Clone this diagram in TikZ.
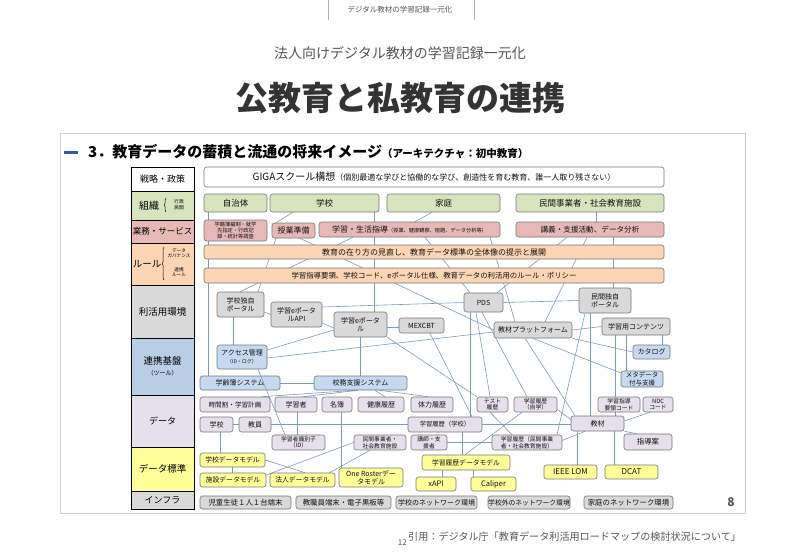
\documentclass[tikz,border=0pt]{standalone}
\usepackage{fontspec}
\setmainfont{Noto Sans CJK JP}
\usetikzlibrary{calc,decorations.pathreplacing}
\definecolor{cgreen}{HTML}{D7E4BD}
\definecolor{cpink}{HTML}{E6B9B8}
\definecolor{cpeach}{HTML}{FCD5B5}
\definecolor{cgray}{HTML}{D9D9D9}
\definecolor{cblue}{HTML}{C6D9F1}
\definecolor{cbluecat}{HTML}{B9CDE5}
\definecolor{clav}{HTML}{E6E0EC}
\definecolor{cyel}{HTML}{FFFF99}
\definecolor{bord}{HTML}{777777}
\definecolor{txt}{HTML}{111111}
\definecolor{lnk}{HTML}{7A9CBB}
\definecolor{hblue}{HTML}{2F5BA8}
\definecolor{dgray}{HTML}{333333}
\definecolor{mgray}{HTML}{555555}
\definecolor{framec}{HTML}{D0D0D0}
\pgfdeclarelayer{bgl}
\pgfdeclarelayer{lines}
\pgfsetlayers{bgl,lines,main}
\newcommand\fsz[2]{\fontsize{#1}{#2}\selectfont}
\newcommand\mybox[7]{\node[#6,minimum width={#4pt-#2pt},minimum height={#5pt-#3pt}] (#1) at ({(#2+#4)/2},{(#3+#5)/2}) {#7};}
\tikzset{
 bxs/.style={draw=bord,line width=0.6pt,rounded corners=2.5pt,inner sep=0pt,align=center,text=txt},
 wbox/.style={bxs,fill=white},
 gbox/.style={bxs,fill=cgreen,font=\fsz{8.5}{10}},
 pbox/.style={bxs,fill=cpink,font=\fsz{8}{9.5}},
 obox/.style={bxs,fill=cpeach,font=\fsz{8}{9.5}},
 gybox/.style={bxs,fill=cgray,font=\fsz{7}{8.5}},
 bbox/.style={bxs,fill=cblue,font=\fsz{7}{8.5}},
 lbox/.style={bxs,fill=clav,font=\fsz{7}{8}},
 sbox/.style={bxs,fill=clav,font=\fsz{5.8}{6.6}},
 ybox/.style={bxs,fill=cyel,font=\fsz{6.8}{8}},
 ibox/.style={bxs,fill=cgray,font=\fsz{7.4}{8.5}},
 cat/.style={draw=black,line width=0.9pt,inner sep=0pt,align=center,font=\fsz{9}{10.5},text=black},
 conn/.style={draw=lnk,line width=0.6pt},
 lab/.style={inner sep=0pt,align=center},
 brc/.style={decorate,decoration={brace,amplitude=1.8pt},line width=0.45pt}
}
\begin{document}
\begin{tikzpicture}[x=1pt,y=-1pt]
\useasboundingbox (0,0) rectangle (800,554);
\begin{pgfonlayer}{bgl}
\fill[white] (0,0) rectangle (800,554);
\draw[framec,line width=0.8pt] (60,133) rectangle (745,513);
\end{pgfonlayer}
% header
\draw[gray!60,line width=0.6pt] (328,0) -- (328,20);
\draw[gray!60,line width=0.6pt] (474,0) -- (474,20);
\node[lab,text=mgray,font=\fsz{7.5}{9}] (hdr) at (400,10) {デジタル教材の学習記録一元化};
\node[lab,text=mgray,font=\fsz{14}{16}] (sub) at (400,53) {法人向けデジタル教材の学習記録一元化};
\node[lab,text=dgray,font=\fsz{33}{36}\bfseries] (title) at (400,98) {公教育と私教育の連携};
\draw[hblue,line width=3pt] (64,152) -- (78,152);
\node[lab,anchor=west,text=black] (head) at (88,152) {\fsz{15}{17}\bfseries 3．教育データの蓄積と流通の将来イメージ\fsz{10.5}{12}（アーキテクチャ：初中教育）};
% footer
\node[lab,anchor=west,text=mgray,font=\fsz{10.1}{12}] (cite) at (408,537) {引用：デジタル庁「教育データ利活用ロードマップの検討状況について」};
\node[lab,anchor=east,text=mgray,font=\fsz{8}{9}] (pnum) at (407,543) {12};
\node[lab,text=mgray,font=\fsz{12}{14}\bfseries] (pg) at (731,502) {8};
% categories
\mybox{c1}{131}{167}{194}{191}{cat,fill=white}{戦略・政策}
\mybox{c2}{131}{191}{194}{220}{cat,fill=cgreen}{}
\mybox{c3}{131}{220}{194}{243}{cat,fill=cpink,font=\fsz{8.5}{10}}{業務・サービス}
\mybox{c4}{131}{243}{194}{285}{cat,fill=cpeach}{}
\mybox{c5}{131}{285}{194}{338}{cat,fill=cgray,font=\fsz{9.5}{11}}{利活用環境}
\mybox{c6}{131}{338}{194}{395}{cat,fill=cbluecat,font=\fsz{9.5}{11}}{連携基盤\\{\fsz{6}{7}（ツール）}}
\mybox{c7}{131}{395}{194}{447}{cat,fill=clav}{データ}
\mybox{c8}{131}{447}{194}{491}{cat,fill=cyel,font=\fsz{9.5}{11}}{データ標準}
\mybox{c9}{131}{491}{194}{509}{cat,fill=cgray}{インフラ}
\node[lab,font=\fsz{10}{11}] (c2t) at (149,205.5) {組織};
\draw[brc] (166,212) -- (166,198);
\node[lab,font=\fsz{4.8}{5.8}] (c2s) at (179,205) {行政\\民間};
\node[lab,font=\fsz{9.5}{11}] (c4t) at (147,264) {ルール};
\draw[brc] (164,280) -- (164,247);
\node[lab,font=\fsz{4.6}{5.6}] (c4a) at (179,253) {データ\\ガバナンス};
\node[lab,font=\fsz{4.6}{5.6}] (c4b) at (179,272) {連携\\ルール};
% strategy
\mybox{giga}{204}{167}{664}{187}{wbox}{{\fsz{10}{12}GIGAスクール構想}{\fsz{8}{10}（個別最適な学びと協働的な学び、創造性を育む教育、誰一人取り残さない）}}
% organisation
\mybox{jichi}{204}{194}{267}{212}{gbox}{自治体}
\mybox{gakko}{270}{194}{379}{212}{gbox}{学校}
\mybox{katei}{387}{194}{500}{212}{gbox}{家庭}
\mybox{minkan}{516}{194}{664}{212}{gbox}{民間事業者・社会教育施設}
% services
\mybox{gakuseki}{204}{220}{267}{241}{pbox,font=\fsz{5.2}{6.2}}{学籍簿編制・就学\\先指定・行政記\\録・統計等調査}
\mybox{jugyo}{272}{223}{315}{238}{pbox}{授業準備}
\mybox{shido}{319}{222}{500}{237}{pbox}{学習・生活指導{\fsz{5.2}{6}（授業、健康観察、宿題、データ分析等）}}
\mybox{kogi}{516}{222}{664}{237}{pbox,font=\fsz{7.6}{9}}{講義・支援活動、データ分析}
% rules
\mybox{rulea}{204}{245}{664}{259}{obox}{教育の在り方の見直し、教育データ標準の全体像の提示と展開}
\mybox{ruleb}{204}{268}{664}{283}{obox,font=\fsz{7.4}{9}}{学習指導要領、学校コード、eポータル仕様、教育データの利活用のルール・ポリシー}
% usage environment
\mybox{sport}{217}{292}{264}{317}{gybox}{学校独自\\ポータル}
\mybox{api}{271}{302}{322}{327}{gybox}{学習eポータ\\ルAPI}
\mybox{epo}{334}{312}{387}{337}{gybox}{学習eポータ\\ル}
\mybox{mex}{399}{318}{444}{333}{gybox}{MEXCBT}
\mybox{pds}{464}{293}{503}{312}{gybox}{PDS}
\mybox{mport}{579}{288}{631}{313}{gybox}{民間独自\\ポータル}
\mybox{kpf}{494}{322}{572}{338}{gybox}{教材プラットフォーム}
\mybox{content}{602}{318}{670}{335}{gybox}{学習用コンテンツ}
\mybox{catalog}{633}{345}{670}{359}{bbox}{カタログ}
\mybox{meta}{621}{371}{663}{387}{bbox,font=\fsz{6.5}{7.5}}{メタデータ\\付与支援}
% platform
\mybox{access}{217}{345}{267}{369}{bbox}{アクセス管理\\{\fsz{5}{6}（ID・ログ）}}
\mybox{gakurei}{200}{376}{280}{390}{bbox}{学齢簿システム}
\mybox{komu}{314}{376}{407}{390}{bbox}{校務支援システム}
% data
\mybox{jikan}{200}{397}{270}{412}{lbox,font=\fsz{6.6}{8}}{時間割・学習計画}
\mybox{learner}{275}{397}{317}{412}{lbox}{学習者}
\mybox{meibo}{322}{397}{352}{412}{lbox}{名簿}
\mybox{kenko}{358}{397}{404}{412}{lbox}{健康履歴}
\mybox{tairyoku}{411}{397}{453}{412}{lbox}{体力履歴}
\mybox{test}{477}{397}{508}{412}{sbox}{テスト\\履歴}
\mybox{jigaku}{514}{397}{557}{412}{sbox}{学習履歴\\（自学）}
\mybox{ycode}{598}{397}{640}{412}{sbox}{学習指導\\要領コード}
\mybox{ndc}{643}{397}{673}{412}{sbox}{NDC\\コード}
\mybox{school}{200}{417}{233}{432}{lbox}{学校}
\mybox{teacher}{239}{417}{271}{432}{lbox}{教員}
\mybox{rgakko}{408}{417}{482}{432}{lbox,font=\fsz{6.3}{7.5}}{学習履歴（学校）}
\mybox{kyozai}{571}{416}{624}{431}{lbox}{教材}
\mybox{lid}{272}{435}{325}{450}{sbox}{学習者識別子\\（ID）}
\mybox{dminkan}{354}{435}{406}{450}{sbox}{民間事業者・\\社会教育施設}
\mybox{koshi}{411}{435}{447}{450}{sbox}{講師・支\\援者}
\mybox{rminkan}{492}{435}{562}{450}{sbox}{学習履歴（民間事業\\者・社会教育施設）}
\mybox{shidoan}{624}{434}{672}{450}{lbox,font=\fsz{7.4}{8.5}}{指導案}
% data standards
\mybox{dma}{200}{453}{265}{467}{ybox}{学校データモデル}
\mybox{dmb}{200}{473}{266}{487}{ybox}{施設データモデル}
\mybox{dmc}{270}{473}{335}{487}{ybox}{法人データモデル}
\mybox{dmd}{339}{468}{403}{487}{ybox,font=\fsz{7}{8.5}}{One Rosterデー\\タモデル}
\mybox{dme}{422}{455}{510}{470}{ybox}{学習履歴データモデル}
\mybox{xapi}{416}{477}{456}{491}{ybox,font=\fsz{7.5}{9}}{xAPI}
\mybox{caliper}{471}{477}{516}{491}{ybox,font=\fsz{7.5}{9}}{Caliper}
\mybox{lom}{544}{465}{597}{479}{ybox,font=\fsz{8}{9}}{IEEE LOM}
\mybox{dcat}{605}{465}{658}{479}{ybox,font=\fsz{8}{9}}{DCAT}
% infrastructure
\mybox{ia}{200}{496}{291}{509}{ibox}{児童生徒１人１台端末}
\mybox{ib}{296}{496}{391}{509}{ibox}{教職員端末・電子黒板等}
\mybox{ic}{396}{496}{477}{509}{ibox,font=\fsz{7}{8.5}}{学校のネットワーク環境}
\mybox{id}{488}{496}{570}{509}{ibox,font=\fsz{6.8}{8.5}}{学校外のネットワーク環境}
\mybox{ie}{584}{496}{673}{509}{ibox}{家庭のネットワーク環境}
% connectors
\begin{pgfonlayer}{lines}
\draw[conn] ([xshift=-27.5pt]jichi.south) -- ([xshift=-32pt]gakurei.north);
\draw[conn] ([xshift=-31.5pt]gakko.south) -- ([xshift=-17.5pt]jugyo.north);
\draw[conn] ([xshift=49.5pt]gakko.south) -- ([xshift=13.5pt]epo.north);
\draw[conn] ([xshift=-11.5pt]katei.south) -- ([xshift=5.5pt]shido.north);
\draw[conn] ([xshift=6pt]minkan.south) -- ([xshift=6pt]kogi.north);
\draw[conn] ([xshift=23pt]kogi.south) -- ([xshift=8pt]mport.north);
\draw[conn] ([xshift=-17.5pt]jugyo.south) -- ([xshift=17.5pt]sport.north);
\draw[conn] ([xshift=-56.5pt]shido.south) -- ([xshift=-0.5pt]sport.north);
\draw[conn] ([xshift=6.5pt]jugyo.south) -- (kpf.west);
\draw[conn] ([xshift=15.5pt]shido.south) -- ([xshift=-13.5pt]pds.north);
\draw[conn] ([xshift=-23pt]kogi.south) -- ([xshift=13.5pt]pds.north);
\draw[conn] ([xshift=-3pt]kogi.south) -- ([xshift=12pt]kpf.north);
\draw[conn] ([xshift=80.5pt]shido.south) -- ([xshift=-18pt]kpf.north);
\draw[conn] ([yshift=-7.5pt]sport.east) -- (api.west);
\draw[conn] ([yshift=-8.5pt]api.east) -- ([yshift=-3.5pt]epo.west);
\draw[conn] ([yshift=-5.5pt]epo.west) -- ([yshift=7pt]access.east);
\draw[conn] ([yshift=-2.5pt]epo.east) -- ([yshift=-1.5pt]mex.west);
\draw[conn] ([yshift=7.5pt]api.east) -- (pds.west);
\draw[conn] ([yshift=-1pt]access.east) -- ([yshift=-2pt]kpf.west);
\draw[conn] ([xshift=-7.5pt]sport.south) -- ([xshift=-9pt]access.north);
\draw[conn] (epo.south) -- (epo.south |- komu.north);
\draw[conn] (pds.east) -- (mport.west);
\draw[conn] (kpf.east) -- (content.west);
\draw[conn] (kpf.south east) -- (catalog.west);
\draw[conn] (kpf.south) -- ([yshift=6pt]meta.west);
\draw[conn] ([xshift=26pt]content.south) -- ([xshift=10.5pt]catalog.north);
\draw[conn] ([xshift=-10pt]content.south) -- ([xshift=-16pt]meta.north);
\draw[conn] ([xshift=-21pt]content.south) -- ([xshift=-4pt]ycode.north);
\draw[conn] ([xshift=-15pt]mport.south) -- ([xshift=-7.5pt]kyozai.north);
\draw[conn] ([xshift=-20pt]mport.south) -- ([xshift=30pt]rminkan.north);
\draw[conn] ([xshift=-13.5pt]pds.south) -- ([xshift=25pt]rgakko.north);
\draw[conn] ([xshift=-7.5pt]pds.south) -- ([xshift=-2.5pt]test.north);
\draw[conn] ([xshift=-1.5pt]pds.south) -- ([xshift=-8.5pt]jigaku.north);
\draw[conn] (gakurei.east) -- (komu.west);
\draw[conn] ([xshift=-5.5pt]komu.south) -- ([xshift=27pt]jikan.north);
\draw[conn] ([xshift=-2.5pt]komu.south) -- ([xshift=7pt]learner.north);
\draw[conn] ([xshift=14.5pt]komu.south) -- ([xshift=4pt]kenko.north);
\draw[conn] ([xshift=19.5pt]komu.south) -- ([xshift=-4pt]tairyoku.north);
\draw[conn] ([xshift=-8pt]kpf.south) -- ([xshift=-22.5pt]kyozai.north);
\draw[conn] ([yshift=-5pt]jigaku.east) -- ([yshift=4pt]kyozai.west);
\draw[conn] (rgakko.east) -- (rgakko.east -| kyozai.west);
\draw[conn] ([yshift=2pt]rminkan.east) -- ([xshift=-12.5pt]kyozai.south);
\draw[conn] (koshi.east) -- (koshi.east -| rminkan.west);
\draw[conn] ([xshift=-20.5pt]kyozai.south) -- ([xshift=6.5pt]lom.north);
\draw[conn] ([xshift=16.5pt]kyozai.south) -- ([xshift=-17.5pt]dcat.north);
\draw[conn] ([yshift=2.5pt]kyozai.east) -- ([xshift=-8pt]ndc.south);
\draw[conn] ([xshift=-4pt]ycode.south) -- ([xshift=17.5pt]kyozai.north);
\draw[conn] (kyozai.south east) -- ([xshift=-11pt]shidoan.north);
\draw[conn] ([xshift=17pt]rgakko.south) -- ([xshift=-4pt]dme.north);
\draw[conn] ([xshift=-13.5pt]jigaku.south) -- ([xshift=-1pt]dme.north);
\draw[conn] (epo.south east) -- (test.north west);
\draw[conn] ([xshift=8.5pt]mex.south) -- ([xshift=27pt]rgakko.north);
\draw[conn] (teacher.east) -- (teacher.east -| rgakko.west);
\draw[conn] (school.east) -- (teacher.west);
\draw[conn] ([xshift=3.5pt]school.south) -- ([xshift=-12.5pt]dma.north);
\draw[conn] ([xshift=1pt]learner.south) -- ([xshift=-1.5pt]lid.north);
\draw[conn] ([xshift=4pt]meibo.south) -- ([xshift=-30pt]dmd.north);
\draw[conn] (dma.east) -- ([xshift=2.5pt]dmc.north);
\draw[conn] ([xshift=-0.5pt]dma.south) -- ([xshift=-1pt]dmb.north);
\draw[conn] ([yshift=5pt]dmb.east) -- (dminkan.west);
\draw[conn] ([xshift=27pt]dmc.north) -- ([xshift=-10pt]dminkan.south);
\draw[conn] ([xshift=-24pt]dme.south) -- ([xshift=6pt]xapi.north);
\draw[conn] ([xshift=7pt]dme.south) -- ([xshift=-20.5pt]caliper.north);
\draw[conn] ([xshift=-2.5pt]test.south) -- ([xshift=-15pt]rminkan.north);
\end{pgfonlayer}
\draw[conn] ([xshift=16pt]access.south) -- ([xshift=-13.5pt]lid.north);
\end{tikzpicture}
\end{document}
